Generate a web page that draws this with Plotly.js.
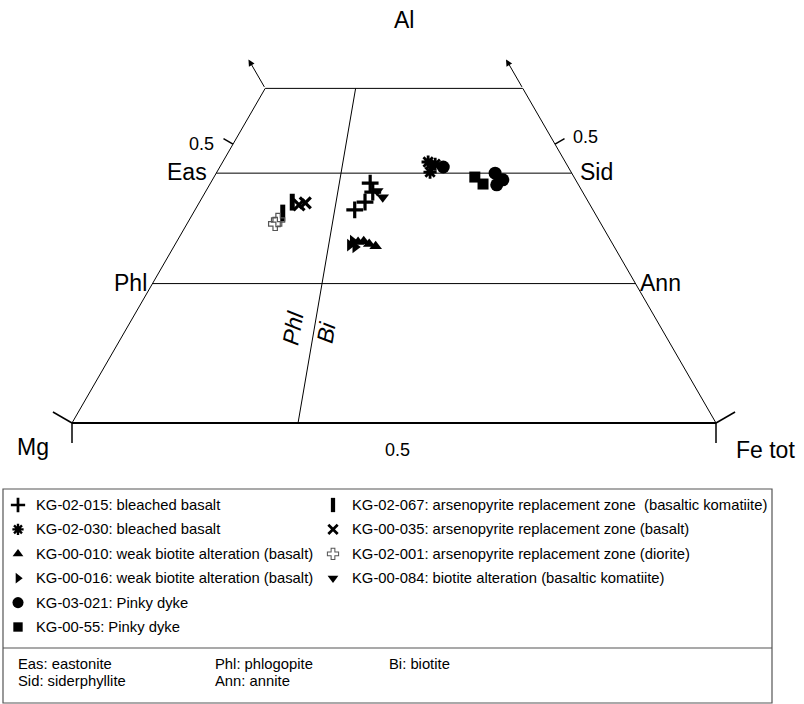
<!DOCTYPE html>
<html><head><meta charset="utf-8">
<script src="https://cdn.plot.ly/plotly-3.0.1.min.js"></script>
<style>html,body{margin:0;padding:0;background:#fff}</style>
</head><body><div id="chart" style="width:804px;height:704px"></div>
<script>
// ---- sample data: Al and Fe tot fractions (Mg = 1 - Al - Fe) ----
const al_KG02015 = [0.430, 0.414, 0.396, 0.382];
const fe_KG02015 = [0.248, 0.260, 0.257, 0.248];
const al_KG02030 = [0.468, 0.450, 0.464];
const fe_KG02030 = [0.319, 0.331, 0.332];
const al_KG00010 = [0.3245, 0.326, 0.321, 0.317];
const fe_KG00010 = [0.282, 0.290, 0.301, 0.313];
const al_KG00016 = [0.319, 0.3156, 0.326];
const fe_KG00016 = [0.272, 0.282, 0.273];
const al_KG03021 = [0.459, 0.448, 0.436, 0.427];
const fe_KG03021 = [0.347, 0.433, 0.451, 0.446];
const al_KG0055  = [0.441, 0.4285];
const fe_KG0055  = [0.405, 0.424];
const al_KG02067 = [0.396, 0.3765];
const fe_KG02067 = [0.144, 0.139];
const al_KG00035 = [0.3945, 0.391];
const fe_KG00035 = [0.165, 0.157];
const al_KG02001 = [0.364, 0.357];
const fe_KG02001 = [0.138, 0.137];
const al_KG00084 = [0.416, 0.405];
const fe_KG00084 = [0.266, 0.280];

const seriesLabels = [
  "KG-02-015: bleached basalt",
  "KG-02-030: bleached basalt",
  "KG-00-010: weak biotite alteration (basalt)",
  "KG-00-016: weak biotite alteration (basalt)",
  "KG-03-021: Pinky dyke",
  "KG-00-55: Pinky dyke",
  "KG-02-067: arsenopyrite replacement zone  (basaltic komatiite)",
  "KG-00-035: arsenopyrite replacement zone (basalt)",
  "KG-02-001: arsenopyrite replacement zone (diorite)",
  "KG-00-084: biotite alteration (basaltic komatiite)"
];
const abbrevLabels = ["Eas: eastonite", "Phl: phlogopite", "Bi: biotite", "Sid: siderphyllite", "Ann: annite"];

// ---- diagram reference lines ----
const alTop = 0.6;          // truncation of the diagram
const alEasSid = 0.448;     // Eas - Sid join
const alPhlAnn = 0.25;      // Phl - Ann join
const feRatioPhlBi = 0.351; // Phl / Bi divide, Fe/(Fe+Mg)
const tickVals = [0.5];

// ---- ternary -> cartesian ----
function tx(al, fe) { return fe + al / 2; }
function ty(al) { return al; }
const X0 = 72, SIDE = 644, Y0 = 423, H = 557.7, W = 804, HT = 704;
function dx(px) { return (px - X0) / SIDE; }
function dy(py) { return (Y0 - py) / H; }

const series = [
  {al: al_KG02015, fe: fe_KG02015, sym: 'cross-thin-open', size: 12, lw: 3.2, color: '#000'},
  {al: al_KG02030, fe: fe_KG02030, sym: 'asterisk-open', size: 11, lw: 2.8, color: '#000'},
  {al: al_KG00010, fe: fe_KG00010, sym: 'triangle-up', size: 11, lw: 0, color: '#000'},
  {al: al_KG00016, fe: fe_KG00016, sym: 'triangle-right', size: 11, lw: 0, color: '#000'},
  {al: al_KG03021, fe: fe_KG03021, sym: 'circle', size: 13, lw: 0, color: '#000'},
  {al: al_KG0055,  fe: fe_KG0055,  sym: 'square', size: 11, lw: 0, color: '#000'},
  {al: al_KG02067, fe: fe_KG02067, sym: 'line-ns-open', size: 12, lw: 5, color: '#000'},
  {al: al_KG00035, fe: fe_KG00035, sym: 'x-thin-open', size: 11, lw: 3.2, color: '#000'},
  {al: al_KG02001, fe: fe_KG02001, sym: 'cross-open', size: 11, lw: 1.2, color: '#555'},
  {al: al_KG00084, fe: fe_KG00084, sym: 'triangle-down', size: 11, lw: 0, color: '#000'}
];

const traces = [];
function lineTrace(als, fes, width) {
  traces.push({x: als.map((a, i) => tx(a, fes[i])), y: als.map(ty), mode: 'lines',
    line: {color: '#000', width: width}, hoverinfo: 'skip', showlegend: false});
}
lineTrace([0, 0], [0, 1], 2);
lineTrace([0, alTop, alTop, 0], [0, 0, 1 - alTop, 1], 1);
lineTrace([alEasSid, alEasSid], [0, 1 - alEasSid], 1);
lineTrace([alPhlAnn, alPhlAnn], [0, 1 - alPhlAnn], 1);
lineTrace([0, alTop], [feRatioPhlBi, feRatioPhlBi * (1 - alTop)], 1);

series.forEach((s, i) => {
  traces.push({
    x: s.al.map((a, k) => tx(a, s.fe[k])), y: s.al.map(ty), mode: 'markers',
    name: seriesLabels[i], showlegend: false,
    marker: {symbol: s.sym, size: s.size, color: s.color, line: {color: s.color, width: s.lw}}
  });
});

// custom legend
const legRow0 = 505, legStep = 24.4;
const legX = [18, 333];
series.forEach((s, i) => {
  const col = i < 6 ? 0 : 1, row = i < 6 ? i : i - 6;
  traces.push({x: [dx(legX[col])], y: [dy(legRow0 + row * legStep)], mode: 'markers', showlegend: false,
    hoverinfo: 'skip', marker: {symbol: s.sym, size: s.size * 0.85, color: s.color, line: {color: s.color, width: s.lw * 0.85}}});
});

const ann = [];
const FAM = 'Liberation Sans, Arial, sans-serif';
const big = {family: FAM, size: 23, color: '#000'};
const mid = {family: FAM, size: 18, color: '#000'};
const small = {family: FAM, size: 14.8, color: '#000'};
function txt(text, px, py, xanchor, font, angle) {
  ann.push({text: text, x: px / W, y: 1 - py / HT, xref: 'paper', yref: 'paper', xanchor: xanchor,
    yanchor: 'middle', showarrow: false, font: font, textangle: angle || 0});
}
txt('Al', 404, 20, 'center', big);
txt('Mg', 51, 447, 'right', big);
txt('Fe tot', 734, 450, 'left', big);
txt('Eas', 209, 172, 'right', big);
txt('Sid', 578, 172, 'left', big);
txt('Phl', 149, 283, 'right', big);
txt('Ann', 638, 283, 'left', big);
txt('<i>Phl</i>', 293, 328, 'center', big, -80);
txt('<i>Bi</i>', 326, 333, 'center', big, -80);
tickVals.forEach(v => {
  ann.push({text: String(v), x: tx(v, 0) - 0.026, y: ty(v), xanchor: 'right', yanchor: 'middle', showarrow: false, font: mid});
  ann.push({text: String(v), x: tx(v, 1 - v) + 0.025, y: ty(v) + 0.012, xanchor: 'left', yanchor: 'middle', showarrow: false, font: mid});
  ann.push({text: String(v), x: tx(0, v) + 0.006, y: dy(450), xanchor: 'center', yanchor: 'middle', showarrow: false, font: mid});
});
seriesLabels.forEach((t, i) => {
  const col = i < 6 ? 0 : 1, row = i < 6 ? i : i - 6;
  txt(t, col === 0 ? 34 : 350, legRow0 + row * legStep, 'left', small);
});
const abX = [16, 213, 387, 16, 213], abY = [664, 664, 664, 681, 681];
abbrevLabels.forEach((t, i) => txt(t, abX[i], abY[i], 'left', small));

[[alTop, 0], [alTop, 1 - alTop]].forEach(([a, f]) => {
  const a2 = a + 0.052, f2 = f - 0.052;
  ann.push({x: tx(a2, f2), y: ty(a2), ax: tx(a, f), ay: ty(a), xref: 'x', yref: 'y', axref: 'x', ayref: 'y',
    showarrow: true, arrowhead: 2, arrowsize: 1.3, arrowwidth: 1, arrowcolor: '#000', text: ''});
});

const shapes = [];
function seg(x0, y0, x1, y1, w) {
  shapes.push({type: 'line', xref: 'x', yref: 'y', x0: x0, y0: y0, x1: x1, y1: y1, line: {color: '#000', width: w}});
}
tickVals.forEach(v => {
  const lx = X0 + SIDE * tx(v, 0), ly = Y0 - H * v;
  seg(dx(lx), dy(ly), dx(lx - 0.866 * 11), dy(ly - 0.5 * 11), 1.5);
  const rx = X0 + SIDE * tx(v, 1 - v);
  seg(dx(rx), dy(ly), dx(rx + 0.866 * 11), dy(ly - 0.5 * 11), 1.5);
});
seg(dx(X0), dy(Y0), dx(X0), dy(Y0 + 20), 1.5);
seg(dx(X0), dy(Y0), dx(X0 - 0.866 * 22), dy(Y0 - 0.5 * 22), 1.5);
seg(dx(X0 + SIDE), dy(Y0), dx(X0 + SIDE), dy(Y0 + 20), 1.5);
seg(dx(X0 + SIDE), dy(Y0), dx(X0 + SIDE + 0.866 * 22), dy(Y0 - 0.5 * 22), 1.5);
shapes.push({type: 'rect', xref: 'paper', yref: 'paper', x0: 3 / W, x1: 772 / W, y0: 1 - 703 / HT, y1: 1 - 489 / HT,
  line: {color: '#555', width: 1.2}, fillcolor: 'rgba(0,0,0,0)'});
shapes.push({type: 'line', xref: 'paper', yref: 'paper', x0: 3 / W, x1: 772 / W, y0: 1 - 648 / HT, y1: 1 - 648 / HT,
  line: {color: '#555', width: 1.2}});

const layout = {
  width: W, height: HT, margin: {l: 0, r: 0, t: 0, b: 0}, paper_bgcolor: '#fff', plot_bgcolor: '#fff',
  xaxis: {range: [dx(0), dx(W)], visible: false, fixedrange: true},
  yaxis: {range: [dy(HT), dy(0)], visible: false, fixedrange: true},
  showlegend: false, annotations: ann, shapes: shapes
};
Plotly.newPlot('chart', traces, layout, {staticPlot: true});
</script></body></html>
